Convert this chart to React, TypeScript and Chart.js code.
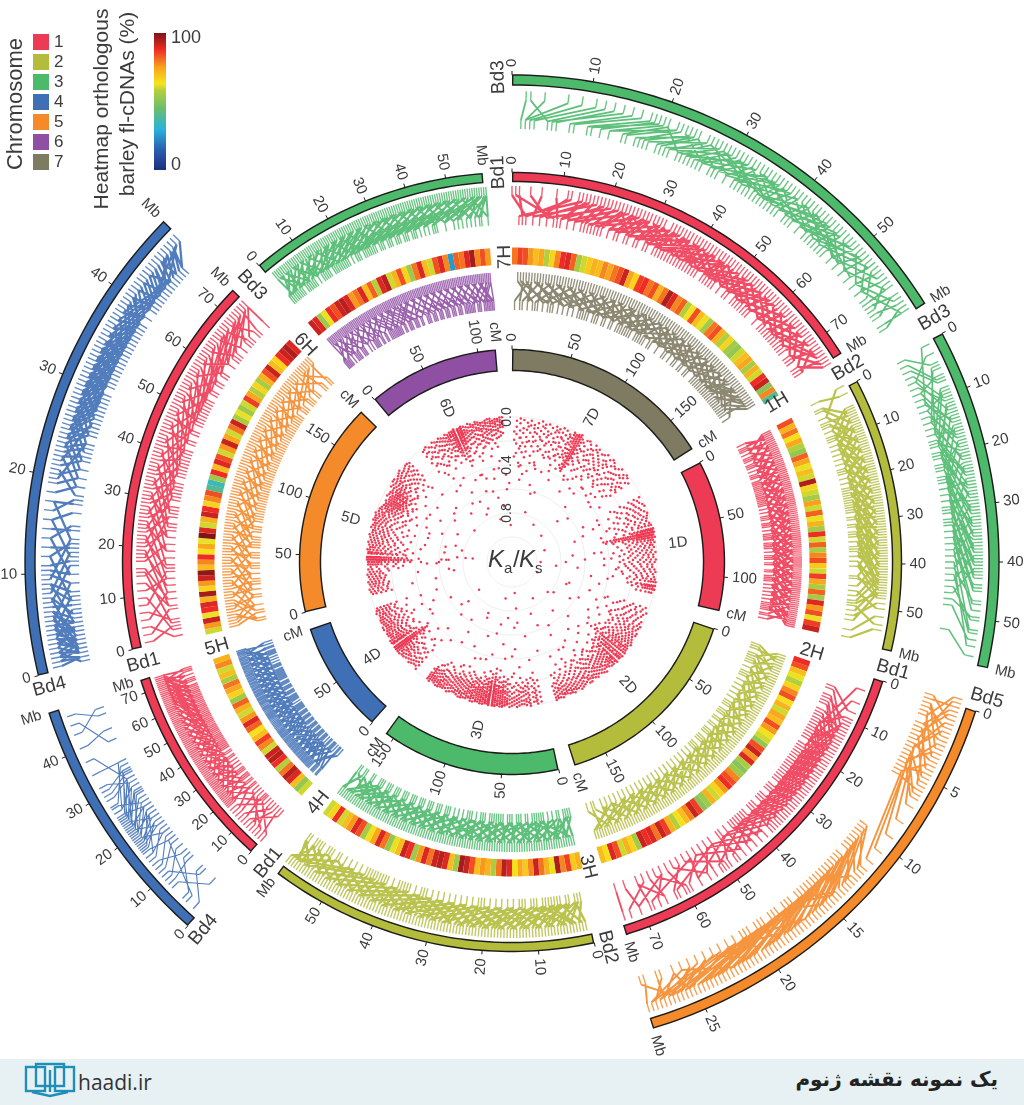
import React, { useEffect, useRef } from "react";
import { Chart, registerables } from "chart.js";
Chart.register(...registerables);

const chromColors = ["#ee3b55", "#b4bc3c", "#4cb96b", "#3f6fb5", "#f58a2a", "#8f4fa3", "#7f7b62"];
const chromNames = ["1", "2", "3", "4", "5", "6", "7"];
const heatStops: [number, string][] = [[0, "#1c2f80"], [15, "#2b5fb0"], [30, "#27b5dc"], [45, "#6cbd6c"], [58, "#b4cf3c"], [63, "#f6e51b"], [75, "#f9a11c"], [88, "#ee2b24"], [100, "#7f1416"]];

const ticksBd3 = [0, 10, 20, 30, 40, 50];
const ticksBd1 = [0, 10, 20, 30, 40, 50, 60, 70];
const ticksBd4 = [0, 10, 20, 30, 40];
const ticksBd5 = [0, 5, 10, 15, 20, 25];
const ticksCm150 = [0, 50, 100, 150];
const ticksCm100 = [0, 50, 100];
const ticksCm50 = [0, 50];

// chromosome index, ring, start angle, end angle, axis maximum, ticks, unit
const arcRows: [number, string, number, number, number, number[], string][] = [
  [2, "o", 0, 58, 60.4, ticksBd3, "Mb"],
  [2, "o", 62, 102.6, 58, ticksBd3, "Mb"],
  [4, "o", 107.8, 163.2, 28.4, ticksBd5, "Mb"],
  [3, "o", 221.7, 252, 49, ticksBd4, "Mb"],
  [3, "o", 256.5, 314.4, 48, ticksBd4, "Mb"],
  [0, "m", 0, 57.7, 75, ticksBd1, "Mb"],
  [1, "m", 62.3, 103.3, 58.6, ticksBd3, "Mb"],
  [0, "m", 107.8, 163, 75, ticksBd1, "Mb"],
  [1, "m", 167.8, 217, 59.3, ticksBd3, "Mb"],
  [0, "m", 222, 252.4, 75, ticksBd1, "Mb"],
  [0, "m", 257, 314.3, 74.4, ticksBd1, "Mb"],
  [2, "m", 319.5, 355.7, 59, ticksBd3, "Mb"],
  [6, "i", 0, 58, 180, ticksCm150, "cM"],
  [0, "i", 62, 103.4, 129, ticksCm100, "cM"],
  [1, "i", 108.2, 163, 180, ticksCm150, "cM"],
  [2, "i", 167.3, 216.4, 158, ticksCm150, "cM"],
  [3, "i", 221, 251.7, 105, ticksCm50, "cM"],
  [4, "i", 256.3, 315, 187, ticksCm150, "cM"],
  [5, "i", 319.7, 355.7, 116, ticksCm100, "cM"],
];

const nameRows: [string, number, number, number][] = [
  ["Bd3", 358.4, 485, 19], ["Bd1", 358, 390, 19], ["7H", 358.7, 305, 19],
  ["Bd3", 60, 488, 19], ["Bd2", 60, 388, 19], ["1H", 59, 309, 19],
  ["Bd5", 106, 494, 19], ["Bd1", 105.8, 396, 19], ["2H", 106.7, 313, 19],
  ["Bd2", 166, 397, 19], ["3H", 166, 314, 19],
  ["Bd4", 220, 480, 19], ["Bd1", 219, 387, 19], ["4H", 218.8, 309, 19],
  ["Bd4", 254.9, 479, 19], ["Bd1", 254.7, 382, 19], ["5H", 253.9, 307, 19],
  ["Bd3", 316.8, 380, 19], ["6H", 316.4, 300, 19],
  ["7D", 29, 165, 15], ["1D", 83.5, 167, 15], ["2D", 136.7, 169, 15], ["3D", 191.4, 171, 15],
  ["4D", 235.8, 169, 15], ["5D", 285, 167, 15], ["6D", 337, 167, 15],
];

const heat7H = [80,86,84,76,70,74,58,66,78,88,90,82,55,60,68,72,70,78,74,80,84,92,74,66,86,88,80,84,72,80,95,90,78,82,58,64,84,70,62,55,80,84,72,58,66,55,52,60,70,74,56,72,60,88,92,50,78,40];
const heat1H = [84,72,80,64,74,58,52,82,74,62,70,60,95,66,60,55,75,60,82,62,72,55,88,60,82,56,78,84,68,60,86,74,56,82,55,90,76,84,62,86,92];
const heat2H = [88,84,70,62,58,66,78,84,64,72,60,74,70,84,76,64,60,52,84,92,76,90,56,50,54,78,84,88,76,66,60,72,54,50,86,92,78,70,64,58,72,86,92,80,90,88,92,55,66,72,60,84,90,64,70];
const heat3H = [72,68,86,78,95,62,72,80,92,78,68,74,64,90,94,80,56,72,76,70,84,92,96,54,70,90,94,92,80,90,76,54,88,92,70,62,52,80,90,74,64,55,84,90,76,70,60,88,66,60];
const heat4H = [60,52,70,90,94,80,58,88,94,92,60,78,86,70,64,82,90,76,60,72,82,54,66,74,80,56,70,60,78,72];
const heat5H = [60,76,92,62,88,90,72,96,66,76,92,98,70,78,88,64,74,62,100,90,60,72,92,88,66,78,84,40,35,54,88,70,90,84,60,76,92,74,60,80,92,56,62,54,60,86,74,58,66,56,72,84,92,70,66,88,92,95,90];
const heat6H = [92,90,54,62,88,84,92,94,90,76,80,90,70,82,58,90,94,60,72,84,66,54,80,90,70,60,84,90,78,25,82,80,90,96,78,84,76];
const heatRows: [number[], number, number][] = [[heat7H, 0, 58], [heat1H, 62.7, 103], [heat2H, 108.4, 163.5], [heat3H, 167, 217], [heat4H, 222, 252], [heat5H, 256.6, 315], [heat6H, 319.5, 356]];

// alternating position on the outer rug, position on the inner rug (percent of the sector)
const links7H = [2,8,4,3,5,12,7,6,9,16,11,10,13,20,15,14,17,24,19,18,21,27,23,22,25,30,27,26,29,34,31,29,33,37,35,32,37,40,38,36,40,44,42,39,44,47,46,43,47,50,49,46,50,54,52,48,54,51,56,60,57,53,59,63,60,57,62,66,64,60,66,69,67,64,69,72,71,68,73,75,75,71,77,79,78,74,80,82,82,78,84,85,85,81,87,88,89,84,91,91,92,87,94,94,96,90,98,97,99,93,
3,14,6,1,8,20,10,4,12,24,14,6,16,28,18,9,20,32,22,12,24,36,26,15,28,40,30,20,32,44,34,22,36,48,38,26,39,52,41,30,43,56,45,33,46,40,48,60,50,36,51,64,53,42,55,68,56,45,58,72,59,48,61,75,63,50,65,78,66,54,68,82,70,57,72,85,74,60,76,88,77,64,79,92,81,68,83,94,84,72,86,96,88,75,90,99,92,80,93,83,95,86,97,84,98,89,100,95];
const links1H = [0,6,2,2,4,10,5,4,7,14,9,8,11,18,13,12,15,22,17,16,19,25,21,20,23,28,25,24,27,32,29,36,31,27,33,40,35,31,37,44,39,35,41,48,43,38,45,52,47,42,49,55,51,46,53,59,55,50,57,62,59,53,61,66,63,57,65,69,67,60,69,73,71,64,73,77,75,68,77,80,79,72,81,84,83,76,85,88,87,80,89,91,91,84,93,94,95,88,97,97,99,92,
1,12,3,0,6,18,8,3,10,22,12,6,14,26,16,9,18,30,20,13,22,34,24,16,26,38,28,19,30,42,32,23,34,46,36,26,38,50,40,29,42,54,44,33,46,58,48,36,50,62,52,40,54,65,56,43,58,68,60,47,62,72,64,50,66,75,68,54,70,78,72,58,74,82,76,60,78,86,80,64,82,90,84,68,86,93,88,72,90,96,92,76,94,99,96,80,98,84,100,88];
const links2H = [1,5,3,2,5,8,7,4,9,12,11,7,13,16,15,10,17,20,19,14,21,24,23,18,25,28,27,22,29,32,31,26,33,35,35,30,37,38,39,34,41,42,43,37,45,46,47,40,49,50,51,44,53,54,55,48,57,58,59,52,61,62,63,56,65,66,67,60,69,70,71,64,73,74,75,68,77,78,79,72,81,82,83,76,85,86,87,80,89,90,91,84,93,94,95,88,97,98,99,92,
2,10,4,0,6,14,8,1,10,18,12,4,14,22,16,6,18,26,20,10,22,30,24,13,26,34,28,16,30,38,32,20,34,42,36,24,38,46,40,27,42,50,44,31,46,54,48,34,50,58,52,38,54,62,56,41,58,66,60,45,62,70,64,49,66,74,68,52,70,78,72,56,74,82,76,60,78,86,80,64,82,90,84,68,86,94,88,72,90,97,92,76,94,100,96,80,98,84,100,90];
const links3H = [1,2,3,5,5,3,7,8,9,5,10,12,13,10,15,16,17,13,19,19,21,22,23,17,25,26,27,23,29,30,31,27,33,33,35,36,37,31,39,39,41,35,43,42,45,45,47,40,49,48,51,44,53,52,55,56,57,50,59,60,61,55,63,64,65,59,67,68,69,63,71,72,73,67,75,76,77,71,79,80,81,75,83,84,85,79,87,88,89,83,91,92,93,87,95,95,97,91,99,99,
2,14,4,0,6,16,8,2,11,20,12,1,14,24,16,6,18,28,20,8,22,32,24,12,26,36,28,15,30,40,32,19,34,44,36,22,38,48,40,26,42,52,44,30,46,56,48,34,50,60,52,38,54,64,56,42,58,68,60,46,62,72,64,50,66,76,68,54,70,80,72,58,74,84,76,62,78,88,80,66,82,92,84,70,86,95,88,74,90,98,92,78,94,82,96,86,98,88,100,96];
const links4H = [2,3,5,12,6,7,9,2,11,16,13,9,15,20,17,14,19,24,21,18,23,28,25,22,27,33,29,26,31,37,33,30,35,41,37,34,39,44,41,38,43,48,45,42,47,52,49,46,51,55,53,50,55,59,57,53,59,62,61,56,63,66,65,60,67,70,69,64,71,73,73,68,75,77,77,72,79,81,81,76,83,84,85,80,87,88,89,84,91,92,93,88,95,95,97,91,99,98,
3,8,7,14,10,0,12,18,14,5,16,22,18,8,20,26,22,11,24,30,26,14,28,36,30,17,32,40,34,21,36,45,38,25,40,48,42,29,44,52,46,32,48,56,50,36,52,60,54,40,56,63,58,44,60,67,62,47,64,71,66,50,68,75,70,54,72,78,74,58,76,82,78,62,80,86,82,66,84,90,86,70,88,93,90,74,92,96,94,78,96,100,98,82,100,86];
const links5H = [0,3,3,1,5,6,7,9,9,4,11,12,13,15,15,10,17,18,19,14,21,21,23,18,25,25,27,22,29,28,31,25,33,32,35,29,37,35,39,32,41,39,43,36,45,43,47,40,49,47,51,44,53,51,55,48,57,55,59,52,61,59,63,56,65,63,67,60,69,67,71,64,73,71,75,68,77,75,79,72,81,79,83,76,85,84,87,80,89,88,91,84,93,92,95,96,97,90,99,99,
1,6,2,10,4,0,6,14,8,1,10,18,12,4,14,22,16,6,18,26,20,9,22,30,24,12,26,34,28,16,30,38,32,20,34,41,36,24,38,45,40,28,42,49,44,31,46,53,48,35,50,57,52,38,54,61,56,42,58,65,60,46,62,69,64,50,66,73,68,54,70,77,72,58,74,81,76,62,78,85,80,66,82,89,84,70,86,93,88,74,90,97,92,78,94,100,96,82,98,86,100,92];
const links6H = [1,2,3,6,4,1,6,9,8,4,10,13,12,8,14,11,16,18,18,15,20,23,22,20,24,27,26,24,28,36,30,28,32,40,34,33,36,44,38,50,40,37,42,55,44,46,46,48,48,60,50,41,52,64,54,52,56,68,58,60,60,72,62,66,64,76,66,70,68,80,70,74,72,84,74,78,76,88,78,82,80,92,82,85,84,95,86,90,88,98,90,92,92,99,94,88,96,96,98,94,99,100,
2,8,5,14,7,0,9,18,11,3,13,22,15,6,17,27,19,10,21,31,23,14,25,35,27,18,29,39,31,22,33,43,35,25,37,47,39,30,41,51,43,34,45,54,47,38,49,58,51,43,53,62,55,47,57,66,59,51,61,70,63,55,65,74,67,59,69,78,71,63,73,82,75,67,77,86,79,71,81,90,83,75,85,94,87,79,89,97,91,83,93,100,95,87,97,91,99,95];
const linksBd1Top = [0,4,1,12,2,3,5,10,8,6,12,13,15,8,18,16,20,14,22,18,24,20,26,21,28,23,30,25,31,26,33,28,34,30,36,31,37,33,38,34,40,36,41,37,42,39,44,40,45,42,46,43,48,45,49,46,50,48,52,49,53,51,54,52,56,53,57,55,58,56,60,58,61,59,62,61,64,62,66,64,68,66,70,67,72,69,74,71,76,73,78,75,80,78,82,80,84,83,86,85,89,87,92,90,95,93,98,97,
16,4,19,2,21,8,23,6,25,14,27,10,29,16,30,34,32,18,33,40,35,22,36,44,38,24,39,48,41,28,42,50,44,30,45,54,47,34,48,56,50,36,51,60,53,40,54,62,55,42,57,64,58,44,59,67,61,47,62,70,63,50,65,72,66,54,67,75,69,56,70,78,71,58,73,81,74,60,75,84,77,64,78,86,79,66,81,89,83,70,85,92,87,74,88,94,90,78,91,96,93,82,94,98,96,84,97,88,99,92,100,96];
const linksBd2Right = [0,8,3,1,8,14,11,10,13,18,15,20,17,12,19,24,21,16,23,28,25,20,27,32,29,24,31,36,33,28,35,39,37,31,39,42,41,34,43,45,45,38,47,48,49,41,51,51,53,44,55,54,57,47,59,57,61,50,63,60,65,53,67,63,69,56,71,66,73,60,75,70,76,64,78,75,79,68,80,85,82,74,84,90,86,80,89,96,92,86,94,99,
9,18,10,4,12,22,14,5,16,26,18,8,20,30,22,11,24,34,26,14,28,38,30,17,32,42,34,20,36,46,38,22,40,50,42,26,44,54,46,30,48,58,50,34,52,62,54,36,56,66,58,40,60,70,62,43,64,74,66,46,68,78,70,50,72,82,74,54,75,84,77,57,78,88,79,60,81,70,80,92];
const linksBd1Right = [2,18,6,24,9,4,11,16,12,8,14,22,15,12,16,14,17,20,18,18,19,16,20,24,21,19,22,22,23,26,24,21,25,28,26,25,27,30,28,27,29,32,30,29,31,34,32,31,33,35,34,36,35,33,36,38,37,40,38,37,39,42,40,41,42,44,43,46,45,45,46,48,48,50,50,49,52,53,54,55,56,57,58,56,60,60,62,63,65,62,67,66,70,70,72,68,75,74,78,72,80,82,83,78,86,88,88,84,91,92,94,96,97,90,99,99,
13,28,14,5,15,30,16,7,17,32,18,9,19,34,20,10,21,36,22,13,23,38,24,15,25,40,26,17,27,42,28,18,29,44,30,20,31,46,32,22,33,48,34,24,35,50,36,26,37,52,38,28,39,54,40,30,41,56,42,32,43,58,44,34,46,60,47,36,49,62,50,38,52,66,54,42,56,68,58,46,60,72,63,50,66,76,68,54,72,80,75,60,79,86,82,66,86,92,90,74,94,84];
const linksBd2Bottom = [1,3,2,8,3,1,4,12,6,2,8,6,10,5,12,9,14,8,16,11,18,14,20,13,22,16,24,18,26,20,28,22,30,24,31,26,33,28,35,30,37,32,39,35,41,36,43,38,45,40,46,42,48,44,50,46,52,48,54,50,56,52,58,55,60,56,62,58,64,61,66,63,68,64,70,66,72,69,74,71,76,73,78,75,80,78,82,80,84,82,86,84,88,87,90,89,92,91,94,93,96,96,98,98,99,95,97,99,
5,14,7,18,9,2,11,22,13,3,15,26,17,6,19,30,21,8,23,34,25,10,27,38,29,14,32,42,34,17,36,46,38,21,40,50,42,24,44,54,47,28,49,58,51,32,53,62,55,36,57,66,59,40,61,70,63,44,65,74,67,48,69,78,71,52,73,82,75,56,77,86,79,60,81,90,83,64,85,94,87,68,89,96,91,72,93,99,95,76,97,80,98,86,100,90];
const linksBd1Low = [0,14,2,4,4,22,6,10,8,18,10,6,12,2,14,16,16,8,18,20,20,25,22,12,24,28,26,24,28,32,30,27,32,35,34,30,36,38,38,34,40,42,42,36,44,45,46,40,48,48,50,44,52,51,54,47,56,54,58,50,60,57,62,53,64,60,66,56,68,63,70,59,72,66,74,62,76,69,78,65,80,72,82,68,84,75,85,71,86,78,87,74,88,81,89,77,90,84,91,80,92,87,93,83,94,90,95,86,96,93,97,89,98,96,99,92,100,99,
25,40,27,15,29,44,31,20,33,48,35,24,37,52,39,28,41,55,43,31,45,58,47,35,49,61,51,38,53,64,55,42,57,67,59,45,61,70,63,48,65,73,67,51,69,76,71,54,73,79,75,57,77,82,79,60,81,85,83,63,85,88,86,66,87,90,88,69,89,92,90,72,91,94,92,75,93,96,94,78,95,98,96,81,97,100,98,84,99,87,100,90];
const linksBd1Left = [1,4,3,9,5,1,7,14,9,6,11,20,13,3,15,18,17,10,19,24,21,12,23,28,25,16,27,32,29,21,31,36,33,26,35,39,37,30,39,43,41,34,43,46,45,38,47,50,49,42,51,53,53,46,55,56,57,50,59,59,61,54,63,62,65,58,67,65,69,61,71,68,73,64,75,71,77,67,79,74,81,70,83,78,85,74,87,81,89,77,90,84,92,80,94,88,95,84,96,92,97,86,98,97,99,90,100,94,
20,5,24,36,26,10,28,42,30,14,32,45,34,18,36,49,38,22,40,52,42,26,44,56,46,30,48,59,50,33,52,62,54,37,56,66,58,41,60,69,62,44,64,72,66,48,68,75,70,51,72,78,74,55,76,81,78,58,80,84,82,62,84,87,86,65,88,90,90,68,91,93,92,71,93,96,95,75,97,80,99,86,100,100];
const linksBd3Mid = [1,2,3,5,4,1,6,7,8,4,10,12,12,6,14,9,16,14,18,11,20,16,22,13,24,19,26,22,28,18,30,25,32,21,34,28,36,24,38,31,40,27,42,34,44,30,46,37,48,40,50,34,52,43,54,38,56,46,58,41,60,50,62,45,64,54,66,49,68,58,70,53,72,62,74,57,76,66,78,61,80,70,82,65,84,75,86,70,88,80,90,75,92,86,94,80,96,92,98,86,99,97,100,90,100,100,
2,9,5,12,7,0,9,16,11,2,13,20,15,3,17,24,19,7,21,28,23,10,25,32,27,13,29,36,31,16,33,40,35,19,37,44,39,22,41,48,43,26,45,52,47,29,49,56,51,32,53,60,55,36,57,64,59,38,61,68,63,42,65,72,67,46,69,76,71,50,73,80,75,54,77,84,79,58,81,88,83,62,85,92,87,66,89,96,91,70,93,100,95,74,97,80,98,84,99,94,100,96];
const linksBd3Top = [3,2,4,8,7,3,12,3,15,4,18,5,20,8,22,10,24,9,26,13,28,14,30,17,31,20,33,22,34,25,36,26,37,29,39,30,40,33,41,34,43,36,44,38,46,39,47,41,48,43,50,44,51,47,53,48,54,50,55,52,57,53,58,55,60,57,61,59,62,60,64,61,65,63,66,64,68,66,69,67,71,68,72,70,74,72,75,73,77,75,78,77,80,78,82,80,84,82,85,84,87,86,89,88,91,90,93,93,95,94,97,96,99,99,
32,18,34,38,36,22,38,44,40,28,41,47,43,31,45,50,46,35,48,54,49,36,51,56,52,40,54,60,55,42,56,62,58,46,59,66,61,48,62,68,63,52,65,72,66,54,67,74,69,58,70,76,72,60,73,80,75,64,76,82,78,68,79,84,81,70,83,88,84,74,86,90,87,76,88,92,90,80,92,95,93,84,95,97,96,88,98,100,99,90,47,62,53,38,60,44,68,82,74,58,82,66,44,60,57,72,64,50,71,86,77,62,85,70];
const linksBd3Right = [1,18,4,10,7,2,9,24,11,14,13,6,15,28,17,20,19,12,21,32,23,24,25,18,27,36,29,28,31,22,33,39,35,31,37,26,39,43,41,34,43,30,45,46,47,38,49,35,51,50,53,42,55,40,57,53,59,46,61,44,63,57,65,50,67,48,69,60,71,54,73,64,75,52,77,68,79,58,82,72,85,62,88,78,91,66,94,84,96,70,99,92,
8,28,12,4,16,32,18,8,20,36,22,10,24,40,26,14,28,44,30,16,32,46,34,20,36,50,38,24,40,54,42,28,44,56,46,30,48,60,50,32,52,62,54,34,56,66,58,36,60,68,62,40,64,72,66,42,68,76,70,46,72,80,74,50,78,56,83,60,87,82,92,74];
const linksBd5 = [0,6,2,2,4,10,5,1,7,4,8,14,10,8,12,3,13,17,15,13,17,9,18,19,20,15,22,21,23,16,26,14,30,13,34,17,38,15,41,20,43,37,45,40,47,42,49,38,50,44,52,39,54,46,56,42,57,48,59,50,60,45,62,52,63,49,65,54,66,51,68,56,69,53,71,58,72,55,74,60,75,62,76,57,78,64,79,66,80,61,82,68,83,70,84,65,86,72,87,74,88,69,90,78,91,76,92,84,93,73,94,88,95,82,96,92,97,86,98,95,99,90,100,99,
1,12,3,8,6,14,9,3,11,18,14,6,16,20,19,11,21,5,24,18,44,35,46,52,48,36,51,58,53,41,55,62,58,44,61,66,64,47,67,70,70,50,73,72,77,54,81,76,85,60,89,84,91,62,92,88,94,70,96,96,97,76,99,80,52,60,60,74,68,48,75,82,83,58,90,92,55,40,64,78,72,52,79,90,87,66,94,100];
const linksBd4Low = [2,12,6,30,8,20,14,4,16,18,18,25,20,10,22,28,24,32,26,22,28,36,30,34,32,30,33,40,35,38,36,44,37,42,38,48,39,46,40,50,41,44,42,54,43,52,44,48,45,56,46,58,47,60,48,55,49,62,50,65,52,58,55,68,58,62,60,64,62,66,64,60,70,70,76,62,82,85,88,95,92,80,96,92,
34,46,36,40,38,34,40,56,42,38,44,62,46,42,48,66,50,48,52,70,54,50,30,44];
const linksBd4Up = [1,1,2,4,3,2,4,8,5,3,6,12,7,5,8,15,9,7,10,18,11,9,12,10,13,13,14,22,15,11,16,25,17,14,18,16,19,28,20,18,21,20,22,23,24,27,26,26,28,31,30,30,32,34,34,37,36,36,38,40,40,42,42,44,44,46,46,47,47,49,48,50,49,52,50,53,51,54,52,56,53,57,54,58,55,59,56,60,57,61,58,62,59,64,60,65,61,66,62,67,63,68,64,69,65,70,66,71,67,72,68,73,69,74,70,75,71,76,72,77,74,78,76,79,78,80,80,82,82,84,84,85,86,87,88,89,90,92,92,90,94,94,96,88,98,96,99,84,
41,50,43,38,45,55,46,40,48,60,49,42,50,62,51,44,52,64,53,46,54,66,55,48,56,68,57,50,58,70,59,52,60,72,61,54,62,74,63,56,64,76,65,58,66,78,67,60,68,80,69,62,70,82,71,64,72,84,73,66,74,86,75,68,76,88,77,70,78,90,79,72,80,92,81,74,82,76,83,78,84,80,85,79,86,82,87,84,88,85,89,86,90,87,91,88,92,89,93,91,94,92,95,90,96,93,97,94,98,95,99,91,100,96,3,0,6,5,9,2,12,6,15,3,18,9,24,14,28,20,32,24,36,28,
0,1,1,3,2,1,3,5,4,2,5,6,6,3,7,8,8,4,9,9,10,5,11,2,12,7];

// links, chromosome index, band, start angle, end angle, stroke of the link bundle
const trackRows: [number[], number, string, number, number, number][] = [
  [links7H, 6, "i", 0, 57, 2], [links1H, 0, "i", 63, 103, 2], [links2H, 1, "i", 108.5, 163, 2], [links3H, 2, "i", 167, 217, 2.2],
  [links4H, 3, "i", 222, 252, 1.8], [links5H, 4, "i", 257, 315, 1.7], [links6H, 5, "i", 320, 356, 1.4],
  [linksBd1Top, 0, "m", 0, 58, 2.4], [linksBd2Right, 1, "m", 62, 103, 2.2], [linksBd1Right, 0, "m", 109, 163, 1.9], [linksBd2Bottom, 1, "m", 168, 217, 2.4],
  [linksBd1Low, 0, "m", 222, 252, 1.7], [linksBd1Left, 0, "m", 257, 314, 1.8], [linksBd3Mid, 2, "m", 320, 356, 2],
  [linksBd3Top, 2, "o", 0, 58, 1.8], [linksBd3Right, 2, "o", 62, 102, 1.6], [linksBd5, 4, "o", 107, 163, 1.9], [linksBd4Low, 3, "o", 222, 252, 1.1], [linksBd4Up, 3, "o", 257, 314, 2.3],
];

// each row: angle, then Ka/Ks values in hundredths
const kaKs7D = [[2,3,8,14,22,30],[3.5,1,5,11,17,26,38],[5,2,9,13,21,29],[6.5,4,10,16,24,33,47],[8,2,6,12,19],[9.5,5,8,15,23,31],[11,3,7,12,18,27],[12.5,1,9,14,22,36],[14,3,6,11,17,24,41],[15.5,2,8,13,20],[17,4,9,16,25,30],[18.5,2,7,12,18,24],[20,3,6,10,15,21,29],[21.5,1,5,9,14,20,26,34],[23,2,6,11,17,23,29],[24.5,4,8,13,19,25],[26,1,3,6,9,12,16,20,24,31],[27,2,4,6,8,10,13,16,19,22,26,29,33],[28,1,2,3,5,7,9,11,13,15,17,19,21,23,25,27,29,31,33,35],[29,0,2,4,6,8,10,12,14,16,18,20,22,24,27,30],[30,3,6,9,13,17,21,27],[32,2,7,12,18,25,40],[34,3,8,14,21,28],[36,1,6,10,16,23,35],[38,2,5,11,17,24],[40,4,9,15,20,31],[42,1,7,13,18,26,44],[44,3,8,12,19],[46,2,6,14,22,27],[48,5,10,16,25,38],[50,1,8,13,20],[52,3,7,15,24,33],[54,2,9,14,19,28],[56,4,11,17,22],
[1,12,19,33],[4,17,24,41],[7,7,20,28],[10,11,19,37],[13,5,16,26],[16,11,18,28],[19,5,15,28],[22,10,17,25,39],[25,6,11,16,22,35],[31,5,11,15,23,37],[33,1,11,20,30],[35,6,12,17,26],[37,4,9,15,21,32],[39,7,13,22,29],[41,3,11,17,24],[43,6,10,16,23,36],[45,1,9,18,25],[47,4,11,19,29],[49,3,9,15,22,34],[51,6,12,18,27],[53,1,5,11,17],[55,6,12,16,25,41]];
const kaKs1D = [[63,2,7,12,20,29],[65,4,9,15,24],[67,1,6,11,17,26,42],[69,3,8,13,19,30],[71,2,5,10,16,22,35],[73,4,9,14,21,28],[75,1,3,6,9,12,17,23,31,44],[76.5,0,2,4,6,8,10,13,16,20,25,33],[78,0,1,2,3,4,5,6,7,8,9,10,11,12,13,14,15,16,18,20,22,24,26,28,30,32,34,37,40,43],[79,1,2,3,4,5,6,7,8,9,10,11,12,13,14,15,17,19,21,23,25,27,30,33,36,41],[80,0,2,3,5,6,8,9,11,13,15,18,22,27,35],[82,1,4,7,11,16,22,32],[84,2,6,10,15,21,29,46],[86,1,5,9,14,20,27],[88,3,7,12,18,24,38],[90,2,6,11,16,23,31],[92,4,8,13,19,26,44],[94,1,5,10,15,22,34],[96,2,7,12,17,28],[98,0,2,4,6,9,13,18,24,36],[99.5,0,1,3,5,7,9,12,15,20],[101,0,1,2,4,6,8,10,14,19],[102.5,2,4,7,11,15],
[64,5,10,17,26],[66,2,8,13,21,33],[68,5,10,16,24],[70,1,7,12,18,27],[72,3,7,13,19,31],[74,2,6,11,17,25],[77,1,3,5,7,9,11,14,18],[81,2,4,6,9,12,15,19,25],[83,3,5,9,13,18,24],[85,4,8,12,17,23,36],[87,3,7,11,16,22,31],[89,1,5,9,14,20,28],[91,4,8,14,21,27],[93,2,6,11,17,24,32],[95,3,8,13,19,29],[97,1,4,8,11,16,22],[100,2,4,6,8,11,16,23]];
const kaKs2D = [[109,3,8,14,22],[111,1,6,11,18,27,38],[113,4,9,15,21],[115,2,7,12,18,26,34],[117,1,4,8,13,17,23,30],[119,3,6,10,14,19,25],[121,1,4,7,11,15,20,27,36],[123,2,5,8,12,16,21,28],[125,0,3,6,9,12,15,18,22,26,32],[127,1,3,5,7,9,11,13,16,19,23,28,34],[129,0,2,4,6,8,10,12,14,16,18,20,22,24,26,29,32,36,40],[130.5,0,2,4,6,8,10,12,14,16,18,20,22,25,29],[132,1,3,5,7,9,11,13,15,17,19,21,24,27],[133.5,0,2,4,6,8,10,12,14,16,19,22,26,33],[135,1,3,5,7,9,12,15,18,21,25],[137,2,4,7,10,13,16,19,23,29,40],[139,0,3,6,8,11,14,18,22],[141,2,5,8,12,16,20,27,35],[143,1,4,7,10,14,19,24],[145,3,5,9,13,17,22,31],[147,1,4,6,10,15,21],[149,2,5,8,12,18,25,38],[151,0,3,6,10,14,20],[153,2,4,7,11,16,23,30],[155,1,3,5,8,12,17],[157,2,4,6,9,13,19,28],[159,0,3,5,8,11,15,22],[161,1,3,6,10,14,21],
[110,5,11,16,25],[112,3,9,14,20,30],[114,6,11,17,24],[116,3,8,14,20,29],[118,2,6,10,15,21,28],[120,1,5,9,12,17,24],[122,3,6,9,13,18,25],[124,1,4,7,10,14,19,24],[126,2,4,8,11,14,17,21,27],[128,1,3,6,8,12,15,19,25,31],[131.5,1,3,5,9,13,17,24],[134,2,5,7,11,15,20,28],[136,1,4,6,8,11,14,17,23],[138,3,5,9,12,15,21],[140,1,4,7,10,13,17,24],[142,3,6,9,11,15,18,26],[144,2,5,8,12,16,21],[146,1,4,7,11,14,19,27],[148,3,7,9,13,17,24],[150,1,4,7,11,16,22],[152,2,5,8,12,18,26],[154,0,3,6,9,13,19],[156,1,4,7,10,15,23],[158,2,3,6,9,12,17],[160,1,4,7,9,13,18],[162,0,2,5,8,12]];
const kaKs3D = [[168,2,6,10,15,20],[169.5,1,4,8,12,18,27],[171,3,7,11,16,23],[172.5,0,2,5,9,14,19],[174,1,4,6,10,13,17],[176,2,5,8,12,16,24,33],[178,0,3,6,9,14,20],[180,1,4,7,11,16,25,42],[182,2,3,5,7,10,12,15,19,23],[184,0,1,3,4,6,8,10,12,14,16,18,21,25],[186,1,2,4,5,7,9,11,13,15,17,20,24,30],[188,0,1,2,3,4,5,6,7,8,9,10,11,12,13,14,15,16,17,18,20,22,24,27,31],[189.5,0,1,2,3,4,5,6,7,8,9,10,11,12,13,14,15,16,18,20,23,26],[191,1,2,3,4,6,7,8,10,11,13,15,17,19,22,28],[193,0,2,3,5,6,8,10,12,14,16,19,23],[195,1,2,4,6,7,9,11,13,15,18,21,37],[197,0,2,4,5,7,9,12,14,17,20],[199,1,3,5,7,9,11,14,18,24],[201,0,2,4,7,10,13,16,22,35],[203,1,4,6,9,12,15,19],[205,2,5,8,11,14,18,26],[207,0,3,6,9,13,17],[209,1,3,5,8,11,15,21],[211,0,2,4,6,9,12,16,23],[213,1,3,5,7,10,13,18],[215,0,2,4,6,8,10,12,14],
[170,3,6,10,14,21],[173,3,7,11,16,22],[175,2,5,9,12,15,20],[177,1,4,7,10,13,18],[179,2,5,8,12,17,28],[181,0,3,6,9,13,19],[183,1,2,4,6,8,11,13,17,21],[185,0,2,3,5,7,9,11,13,16,20],[187,0,1,3,5,6,8,10,12,14,17,22],[190,1,3,5,7,9,12,15,19],[192,0,2,4,5,7,9,11,14,17,21],[194,1,3,5,7,9,11,13,17,26],[196,0,3,5,8,10,12,16,19],[198,2,3,6,8,11,13,16,22],[200,1,4,6,9,12,15,20],[202,0,3,5,8,11,14,18,27],[204,2,4,7,10,13,16,21],[206,1,4,6,9,12,15,24],[208,2,5,7,10,14,19],[210,1,3,6,8,11,16],[212,0,3,5,8,11,14,20],[214,2,4,6,9,12,17],[216,1,3,5,7,11]];
const kaKs4D = [[222,1,5,9,14,22,33],[224,3,6,10,16],[226,1,4,8,12,18,28],[228,2,5,7,11,15,20],[230,1,3,6,8,11,14,17,23,31],[232,0,2,4,6,8,10,12,14,17,20,24,28],[233,0,1,2,3,4,5,6,7,8,9,10,11,12,13,14,15,16,17,18,19,20,22,24,26,28,30,32],[234,0,1,2,3,4,5,6,7,8,9,10,11,12,13,14,16,18,20,22,25,28,34],[235.5,1,2,4,5,7,9,11,13,16,19,24],[237,0,2,4,6,8,10,13,16,20,29,42],[239,1,3,5,8,11,14,18,25],[241,2,4,6,9,12,16,21],[243,0,3,5,8,10,14,19,27],[245,1,3,6,9,13,17,24,38],[247,2,4,7,10,15,21],[249,0,3,6,9,12,16],[251,2,5,8,11,14,19,28],
[223,3,7,11,18,26],[225,2,5,8,13,19,30],[227,3,6,10,14,21],[229,1,4,7,10,13,18,25],[231,0,3,5,8,11,14,19,26],[236,0,2,3,6,8,10,12,15,18,22],[238,2,4,7,9,12,15,20],[240,1,3,6,8,11,14,19,26],[242,0,3,5,7,10,13,17,23],[244,2,4,7,9,12,16,21,30],[246,1,3,5,8,11,15,20],[248,2,5,7,10,13,18,26],[250,1,3,6,9,12,17]];
const kaKs5D = [[257,2,5,9,13,18],[259,0,3,7,10,15],[261,1,4,6,9,12,17],[263,2,5,8,11,14],[265,0,3,6,10,13],[268,3,8,15,22,30],[270,1,2,4,6,8,10,12,15,18,22,26,31,36,45,60],[271,0,1,2,3,4,5,6,7,8,9,10,11,12,13,14,15,16,18,20,22,24,26,28,31,34,37],[272,0,1,2,3,4,5,6,7,8,9,10,11,12,14,16,18,20,23,26,29,33,43,62,66,68],[273.5,1,3,4,6,8,11,13,17,21,25,32],[275,0,2,5,8,11,15,20,27,38],[277,1,4,7,10,14,19,25,33],[279,2,5,8,12,16,22,29],[281,0,3,6,10,13,18,24,35,47],[283,2,4,8,11,15,21,28],[285,1,3,6,9,13,17,26,37],[287,0,2,5,8,11,16,23,31],[289,1,4,7,10,14,20,27,48],[291,2,5,7,11,15,19,26,36],[293,3,6,8,10,12,15,18,22,30],[295,5,7,9,10,12,14,16,18,21,25,33],[297,6,8,10,11,13,14,16,17,19,22,28,41],[299,4,7,9,11,12,14,15,17,18,20,23,30],[301,5,8,10,12,13,15,17,19,22,27],[303,3,6,9,11,14,16,20,24,35],[305,1,4,7,10,13,18,25],[307,2,5,9,14,20,31],[309,0,3,7,12,17,26],[311,2,6,11,16,23],[313,1,4,9,14,21,30],
[258,1,4,7,11,15],[260,2,5,8,12,16],[262,0,3,6,9,13],[264,1,4,7,10,15],[266,2,5,8,11,18],[267,1,4,10,17,26],[269,1,3,5,7,9,12,17,24],[274,1,2,4,7,9,12,15,19,24,30],[276,2,4,6,9,13,17,23,31],[278,0,3,6,9,12,17,22],[280,1,4,7,11,15,20,27],[282,2,5,8,12,16,23],[284,0,3,6,10,14,19,31],[286,2,4,7,11,15,21],[288,1,3,6,9,12,18,25],[290,0,3,6,8,12,17,24],[292,2,4,8,10,13,16,21,29],[294,4,6,8,11,13,16,20,26],[296,4,7,9,11,13,15,17,20,24],[298,3,6,8,10,12,15,18,21,27],[300,4,6,9,11,13,16,19,24],[302,2,5,8,11,14,18,23],[304,1,4,7,10,13,17,26],[306,3,6,8,12,16,22],[308,1,4,7,11,15,21],[310,3,6,9,14,19],[312,1,5,8,12,18,27],[314,2,6,11,17]];
const kaKs6D = [[321,3,8,15,24],[323,1,6,11,18,28],[325,4,9,14,22,36],[327,2,5,10,16,25],[329,1,4,8,12,18,30],[331,3,6,9,13,17,24],[333,2,4,6,8,11,14,17,22,28],[335,1,2,4,5,7,9,11,13,15,17,20,23],[336,0,1,2,3,4,5,6,7,8,9,10,11,12,13,14,15,17,19,21,24,27],[337.5,1,2,3,4,5,6,7,8,9,10,11,12,13,14,16,18,20,23,26,30,34],[339,0,2,4,6,7,9,11,13,15,18,22,30],[341,2,5,7,10,13,17,25,44],[343,1,3,6,8,12,16,21,29,48],[345,0,2,5,7,11,15,19,27],[347,2,4,7,9,12,14,17,22],[349,1,3,5,8,10,13,16,20,31,42],[351,0,2,4,6,9,11,14,18],[353,1,3,5,7,10,13,17,24,36],[355,0,2,4,6,8,12,15],
[322,2,6,12,19],[324,3,8,13,20,31],[326,1,6,11,17,24],[328,3,7,11,15,22],[330,2,5,9,14,20],[332,1,4,7,10,15,21],[334,1,3,5,8,11,14,18],[338.5,1,3,5,7,9,12,15,19,26],[340,1,4,6,8,11,14,20],[342,0,3,6,9,12,17,24],[344,2,4,7,10,14,19,33],[346,1,3,6,8,12,17,23],[348,2,5,7,11,15,19],[350,0,3,6,9,12,17,25],[352,2,4,7,10,14,21],[354,1,3,6,9,11,16],[356,0,3,5,8,13]];
const kaKsHigh = [[15,62,78],[48,70,88],[70,58,92],[95,66,84],[112,72,98],[150,60,86],[160,75],[175,70,82,95],[190,68,90],[205,74],[215,62],[230,66,85],[262,72],[275,75,82,88],[283,64,78],[297,70],[310,58,80],[320,68],[332,64,76],[345,60,84],[358,55,90],[30,85],[90,76,97],[130,82],
[5,40,52],[9,44],[13,38,55],[18,42,60],[24,46],[34,38,50],[38,43],[44,36,57],[52,40,62],[58,35],[64,42,55],[68,48],[72,38,66],[84,52,70],[88,44,60],[100,40,54],[104,46],[110,36,52,70],[114,44],[118,40,58],[122,46,64],[126,42,78],[134,44,56],[140,48,68],[146,42],[152,38,52],[158,36,64],[164,44],[170,38,58],[178,48,66],[184,40,74],[186,52],[192,42,60],[198,36,56],[204,44,70],[212,42,52],[218,38],[224,44,60],[228,38,72],[240,42,62],[244,48],[250,40,54],[258,36,56],[264,42,68],[269,50,58],[278,44,64],[286,48,72],[292,44,58],[300,42,52],[306,44,62],[314,40,56],[322,46],[326,44,62],[330,40,54],[336,46,72],[340,44,58],[348,50,66],[352,42,74],[356,48,60]];
const kaKsTicks = [0, 0.2, 0.4, 0.6, 0.8, 1];
const kaKsLabels = [0, 0.4, 0.8];

const CX = 512, CY = 562;
const RING: any = { o: { c: 482, w: 10 }, m: { c: 385, w: 9 }, i: { c: 202, w: 21 } };
const BAND: any = { o: [433, 471], m: [337, 376], i: [252, 290] };
const RUG = 9;
const TEXT = "#3c3c3c";
const FONT = '"Liberation Sans"';

const polar = (deg: number, r: number) => {
  const t = (deg * Math.PI) / 180;
  return { x: CX + r * Math.sin(t), y: CY - r * Math.cos(t) };
};
const kaKsR = (v: number) => 145 - 120 * v;
const gap = { x: NaN, y: NaN };
const arcPts = (a0: number, a1: number, r: number) => {
  const n = Math.max(2, Math.ceil(Math.abs(a1 - a0)));
  const p = [];
  for (let i = 0; i <= n; i++) p.push(polar(a0 + ((a1 - a0) * i) / n, r));
  return p;
};
const hex = (s: string) => [1, 3, 5].map((i) => parseInt(s.slice(i, i + 2), 16));
const heatColor = (v: number) => {
  for (let i = 1; i < heatStops.length; i++) {
    if (v <= heatStops[i][0]) {
      const [p0, c0] = heatStops[i - 1];
      const [p1, c1] = heatStops[i];
      const f = (v - p0) / (p1 - p0);
      const a = hex(c0), b = hex(c1);
      return `rgb(${a.map((q, k) => Math.round(q + (b[k] - q) * f)).join(",")})`;
    }
  }
  return heatStops[heatStops.length - 1][1];
};
const rotFor = (deg: number) => {
  const d = deg >= 357 ? deg - 360 : deg;
  return d <= 180 ? d - 90 : d - 270;
};

// the long dash keeps the line solid and turns off Chart.js's integer-x fast path, which breaks steep polylines
const line = (data: any[], color: string, width: number, order: number, extra: any = {}) => ({
  type: "scatter", data, showLine: true, borderColor: color, backgroundColor: color, borderWidth: width, borderDash: [100000],
  pointRadius: 0, tension: 0, spanGaps: false, order, clip: false, borderCapStyle: "butt", borderJoinStyle: "round", ...extra,
});

function buildDatasets() {
  const ds: any[] = [];
  kaKsTicks.forEach((v) => ds.push(line(arcPts(0, 360, kaKsR(v)), "#ececec", 1, 9)));
  const pts: any[] = [];
  [kaKs7D, kaKs1D, kaKs2D, kaKs3D, kaKs4D, kaKs5D, kaKs6D, kaKsHigh].forEach((rows) =>
    rows.forEach((row) => row.slice(1).forEach((v) => pts.push(polar(row[0], kaKsR(v / 100))))));
  ds.push({ type: "scatter", data: pts, showLine: false, pointRadius: 1.25, pointBorderWidth: 0, backgroundColor: "#ee3b55", order: 8, clip: false });

  trackRows.forEach(([links, c, band, a0, a1, w]) => {
    const [rI, rO] = BAND[band];
    const rug: any[] = [];
    const bundle: any[] = [];
    for (let i = 0; i + 1 < links.length; i += 2) {
      const o = a0 + (links[i] / 100) * (a1 - a0);
      const n = a0 + (links[i + 1] / 100) * (a1 - a0);
      rug.push(polar(o, rO), polar(o, rO - RUG), gap, polar(n, rI + RUG), polar(n, rI), gap);
      bundle.push(polar(o, rO - RUG), polar(n, rI + RUG), gap);
    }
    ds.push(line(bundle, chromColors[c] + "e6", w, 6));
    ds.push(line(rug, chromColors[c] + "d0", 1.4, 6));
  });

  heatRows.forEach(([vals, a0, a1]) => {
    const p = [];
    for (let i = 0; i <= vals.length; i++) p.push(polar(a0 + ((a1 - a0) * i) / vals.length, 306));
    ds.push(line(p, "#f9a11c", 17, 5, { segment: { borderColor: (c: any) => heatColor(vals[c.p0DataIndex]) } }));
  });

  const tickPts: any[] = [];
  arcRows.forEach(([c, ring, a0, a1, max, ticks]) => {
    const R = RING[ring];
    const pad = (1.4 / R.c) * (180 / Math.PI);
    ds.push(line(arcPts(a0 + pad, a1 - pad, R.c), chromColors[c], R.w - 1.5, 2));
    ds.push(line(arcPts(a0, a1, R.c), "#1d1d1b", R.w + 1.4, 3));
    ticks.forEach((t) => {
      const d = a0 + (t / max) * (a1 - a0);
      tickPts.push(polar(d, R.c + R.w / 2), polar(d, R.c + R.w / 2 + 4), gap);
    });
  });
  ds.push(line(tickPts, "#1d1d1b", 1, 4));
  return ds;
}

const labelsPlugin = {
  id: "labels",
  afterDatasetsDraw(chart: any) {
    const ctx = chart.ctx;
    const sx = (v: number) => chart.scales.x.getPixelForValue(v);
    const sy = (v: number) => chart.scales.y.getPixelForValue(v);
    const put = (text: string, x: number, y: number, rot: number, font: string, align: any = "center", color = TEXT) => {
      ctx.save();
      ctx.translate(sx(x), sy(y));
      ctx.rotate((rot * Math.PI) / 180);
      ctx.font = font;
      ctx.fillStyle = color;
      ctx.textAlign = align;
      ctx.textBaseline = "middle";
      ctx.fillText(text, 0, 0);
      ctx.restore();
    };
    arcRows.forEach(([, ring, a0, a1, max, ticks, unit]) => {
      const R = RING[ring];
      const r = R.c + R.w / 2 + 8;
      const one = (text: string, d: number) => {
        const p = polar(d, r);
        put(text, p.x, p.y, rotFor(d), `15px ${FONT}`, d <= 180 ? "left" : "right");
      };
      ticks.forEach((t) => one(String(t), a0 + (t / max) * (a1 - a0)));
      one(unit, a1);
    });
    nameRows.forEach(([text, d, r, size]) => {
      const p = polar(d, r);
      put(text, p.x, p.y, rotFor(d), `${size}px ${FONT}`);
    });
    kaKsLabels.forEach((v) => {
      const p = polar(0, kaKsR(v));
      put(v.toFixed(1), p.x - 5, p.y, -90, `14px ${FONT}`);
    });
    // centre title
    const kFont = `italic 24px ${FONT}`, subFont = `15px ${FONT}`, slash = `24px ${FONT}`;
    put("K", 488, 560, 0, kFont, "left");
    put("a", 504, 569, 0, subFont, "left");
    put("/", 513, 560, 0, slash, "left");
    put("K", 519, 560, 0, kFont, "left");
    put("s", 535, 569, 0, subFont, "left");
    // legend
    put("Chromosome", 16, 104, -90, `22px ${FONT}`);
    chromNames.forEach((n, i) => {
      const y0 = 34 + i * 20;
      ctx.fillStyle = chromColors[i];
      ctx.fillRect(sx(33), sy(y0), 16, 16);
      put(n, 54, y0 + 8, 0, `17px ${FONT}`, "left");
    });
    put("Heatmap orthologous", 102, 109, -90, `21px ${FONT}`);
    put("barley fl-cDNAs (%)", 128, 104, -90, `21px ${FONT}`);
    const g = ctx.createLinearGradient(0, sy(170), 0, sy(33));
    heatStops.forEach(([p, c]) => g.addColorStop(p / 100, c));
    ctx.fillStyle = g;
    ctx.fillRect(sx(154), sy(33), 12, 137);
    put("100", 171, 38, 0, `18px ${FONT}`, "left");
    put("0", 171, 165, 0, `18px ${FONT}`, "left");
  },
};

export default function App() {
  const ref = useRef<HTMLCanvasElement>(null);
  useEffect(() => {
    const chart = new Chart(ref.current as any, {
      type: "scatter",
      data: { datasets: buildDatasets() },
      plugins: [labelsPlugin],
      options: {
        animation: false, responsive: false, events: [], devicePixelRatio: 1,
        layout: { padding: 0, autoPadding: false },
        plugins: { legend: { display: false }, tooltip: { enabled: false }, title: { display: false } },
        scales: {
          x: { type: "linear", min: 0, max: 1024, display: false },
          y: { type: "linear", min: 0, max: 1105, reverse: true, display: false },
        },
      },
    } as any);
    return () => chart.destroy();
  }, []);
  return (
    <div style={{ position: "fixed", left: 0, top: 0, width: 1024, height: 1105, overflow: "hidden", background: "#fff" }}>
      <canvas ref={ref} width={1024} height={1105} style={{ display: "block", width: 1024, height: 1105 }} />
      <div style={{ position: "absolute", left: 0, top: 1059, width: 1024, height: 46, background: "#e7f1f4" }}>
        <svg width="52" height="40" viewBox="0 0 52 40" style={{ position: "absolute", left: 24, top: 3 }}>
          <g fill="none" stroke="#1f8fb8" strokeWidth="2.4">
            <rect x="2" y="5" width="19" height="24" />
            <rect x="31" y="5" width="19" height="24" />
            <rect x="12" y="2" width="28" height="22" />
            <path d="M26 8 V30 M8 30 L26 34 L44 30" />
          </g>
        </svg>
        <span style={{ position: "absolute", left: 78, top: 9, font: '21px "Open Sans"', color: "#333" }}>haadi.ir</span>
        <span dir="rtl" style={{ position: "absolute", right: 26, top: 8, font: 'bold 20px "DejaVu Sans"', color: "#222" }}>یک نمونه نقشه ژنوم</span>
      </div>
    </div>
  );
}
